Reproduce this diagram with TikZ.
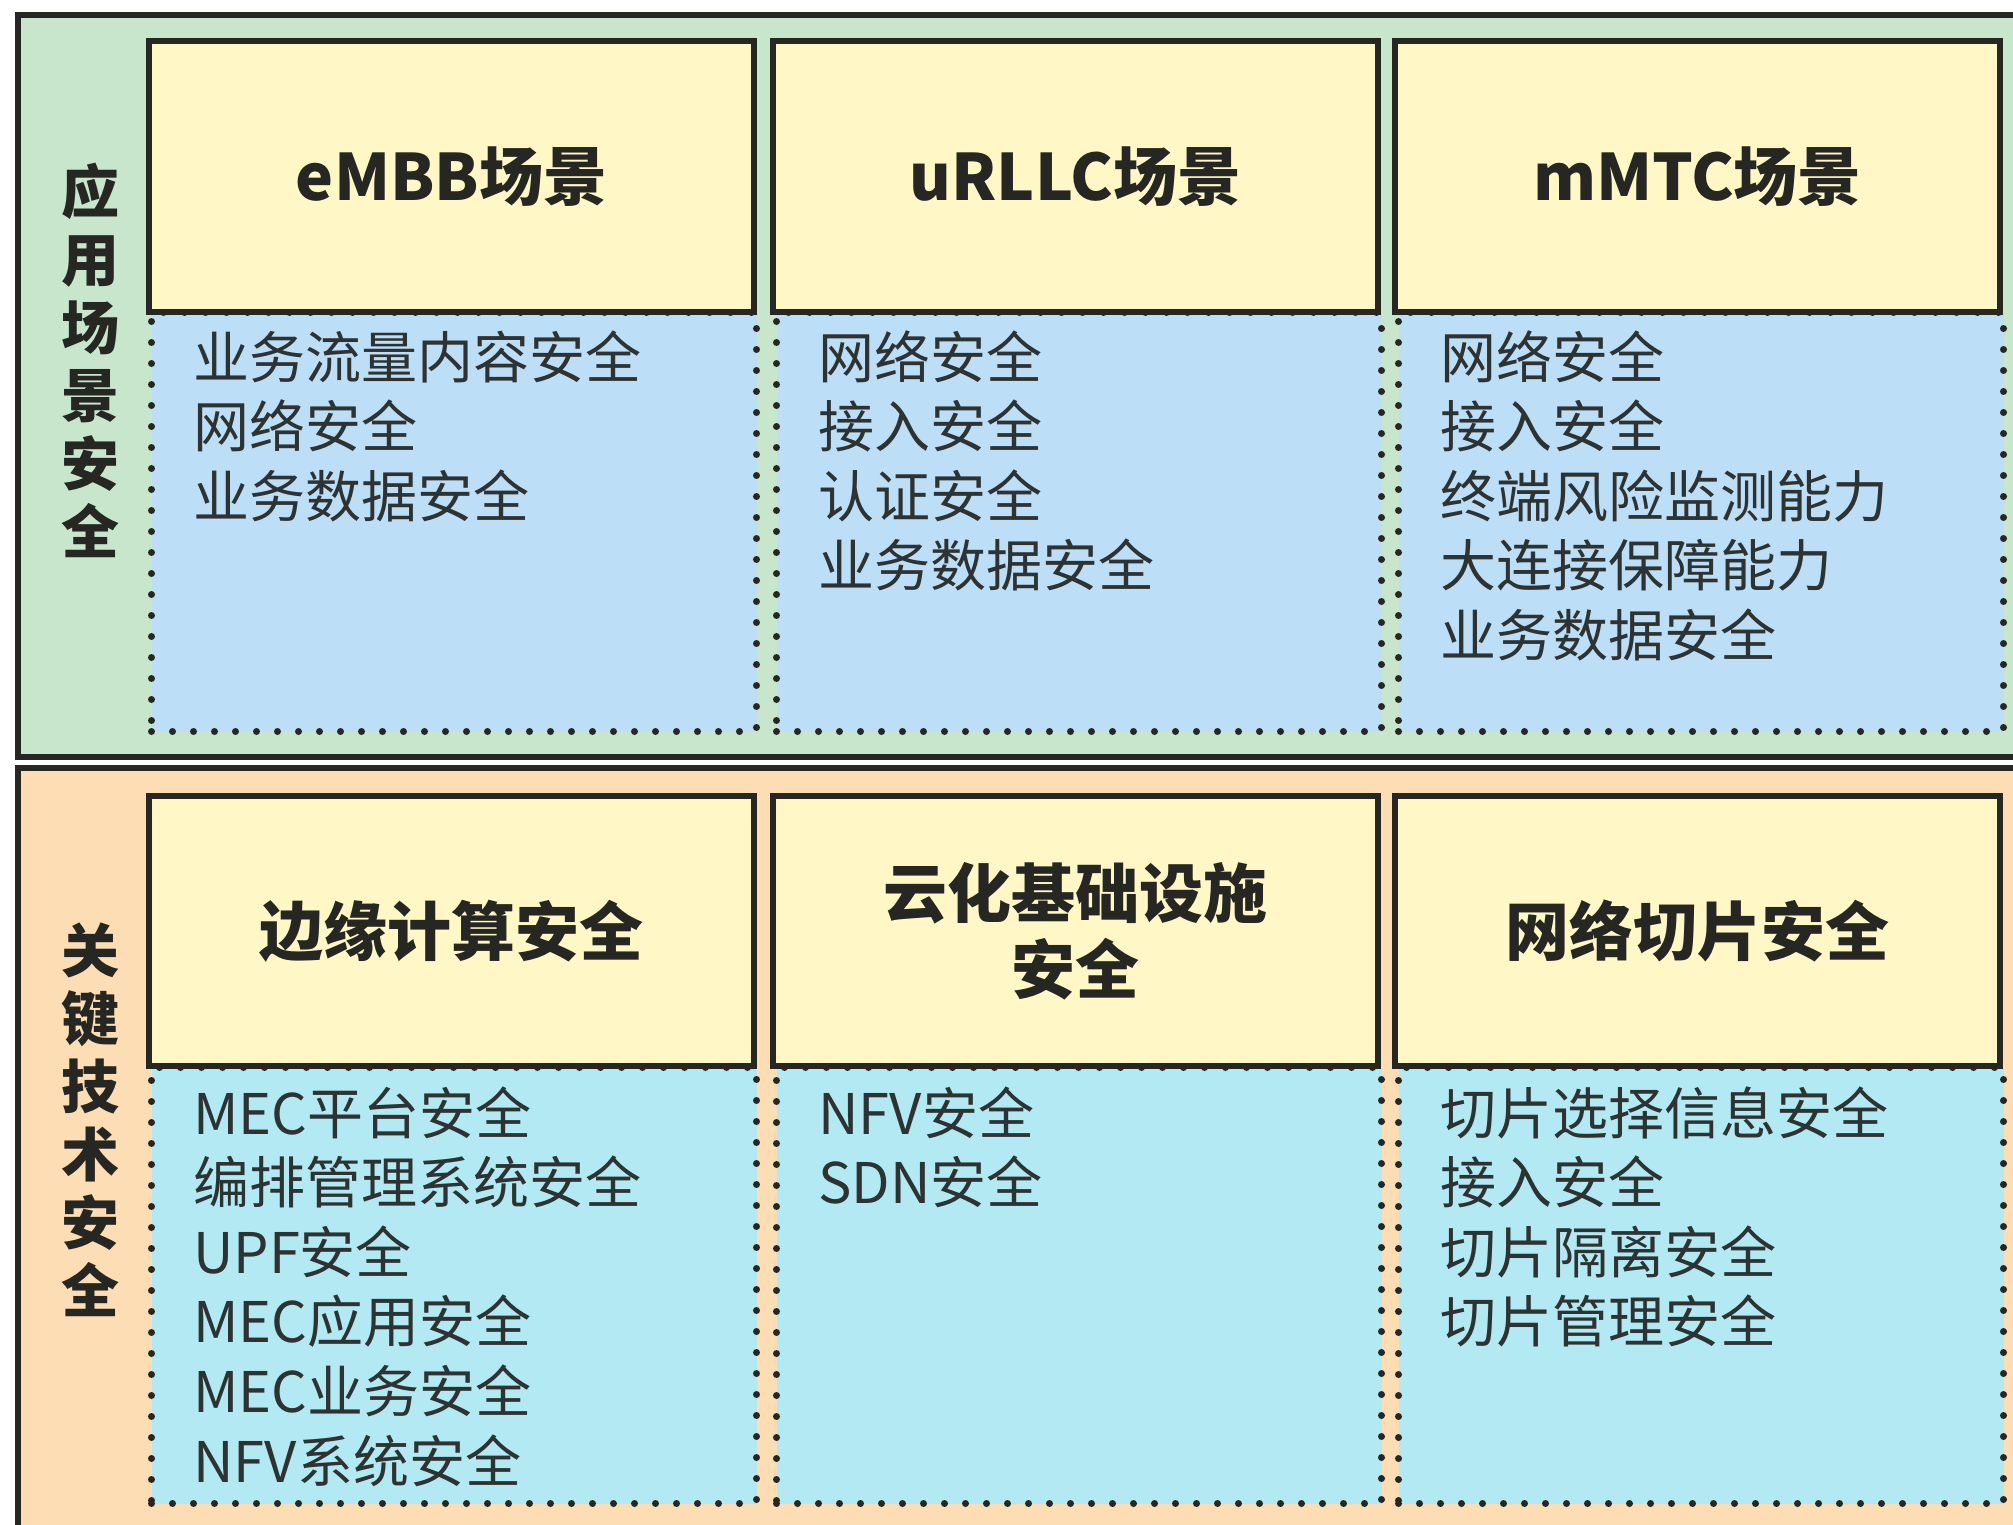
\documentclass[tikz,border=0pt]{standalone}
\usepackage{fontspec}
\setmainfont{Noto Sans CJK SC}
\definecolor{grn}{RGB}{200,230,204}
\definecolor{org}{RGB}{253,221,180}
\definecolor{yel}{RGB}{255,248,198}
\definecolor{blu}{RGB}{189,222,247}
\definecolor{cyn}{RGB}{178,233,242}
\definecolor{lc}{RGB}{38,38,34}
\definecolor{txt}{RGB}{45,50,50}
\begin{document}
\begin{tikzpicture}[x=1pt,y=-1pt,
  frame/.style={draw=lc,line width=6pt},
  head/.style={draw=lc,line width=6pt,fill=yel,minimum width=605pt,inner sep=0pt,
    font=\fontsize{64}{76}\selectfont\bfseries,text=lc,align=center},
  dotbox/.style={draw=lc,line width=7pt,line cap=round,dash pattern=on 0pt off 21pt,
    minimum width=605pt,minimum height=419pt,anchor=north west,inner sep=0pt},
  item/.style={anchor=base west,inner sep=0pt,font=\fontsize{56}{70}\selectfont,text=txt},
  side/.style={font=\fontsize{58}{68}\selectfont\bfseries,align=center,text=lc,inner sep=0pt}]
\useasboundingbox (0,0) rectangle (2013,1525);
\clip (0,0) rectangle (2013,1525);
\fill[white] (0,0) rectangle (2013,1525);
% panels
\filldraw[frame,fill=grn] (18,15) rectangle (2060,757);
\filldraw[frame,fill=org] (18,768) rectangle (2060,1580);
% side labels
\node[side] (s1) at (90,360) {应\\用\\场\\景\\安\\全};
\node[side] (s2) at (90,1120) {关\\键\\技\\术\\安\\全};
% top row detail boxes
\node[dotbox,fill=blu] (d1) at (148,309) {};
\node[dotbox,fill=blu] (d2) at (773,309) {};
\node[dotbox,fill=blu] (d3) at (1395,309) {};
% bottom row detail boxes
\node[dotbox,fill=cyn,minimum height=436pt] (e1) at (148,1064) {};
\node[dotbox,fill=cyn,minimum height=436pt] (e2) at (773,1064) {};
\node[dotbox,fill=cyn,minimum height=436pt] (e3) at (1395,1064) {};
% headers
\node[head,minimum height=271pt] (h1) at (451.5,176.5) {eMBB场景};
\node[head,minimum height=271pt] (h2) at (1075.5,176.5) {uRLLC场景};
\node[head,minimum height=271pt] (h3) at (1697.5,176.5) {mMTC场景};
\node[head,minimum height=270pt] (k1) at (451.5,931) {边缘计算安全};
\node[head,minimum height=270pt] (k2) at (1075.5,931) {云化基础设施\\安全};
\node[head,minimum height=270pt] (k3) at (1697.5,931) {网络切片安全};
% items
\foreach \t [count=\i] in {业务流量内容安全,网络安全,业务数据安全}
  \node[item] (a1-\i) at (193,{378+69.6*(\i-1)}) {\t};
\foreach \t [count=\i] in {网络安全,接入安全,认证安全,业务数据安全}
  \node[item] (a2-\i) at (818,{378+69.6*(\i-1)}) {\t};
\foreach \t [count=\i] in {网络安全,接入安全,终端风险监测能力,大连接保障能力,业务数据安全}
  \node[item] (a3-\i) at (1440,{378+69.6*(\i-1)}) {\t};
\foreach \t [count=\i] in {MEC平台安全,编排管理系统安全,UPF安全,MEC应用安全,MEC业务安全,NFV系统安全}
  \node[item] (b1-\i) at (193,{1134+69.6*(\i-1)}) {\t};
\foreach \t [count=\i] in {NFV安全,SDN安全}
  \node[item] (b2-\i) at (818,{1134+69.6*(\i-1)}) {\t};
\foreach \t [count=\i] in {切片选择信息安全,接入安全,切片隔离安全,切片管理安全}
  \node[item] (b3-\i) at (1440,{1134+69.6*(\i-1)}) {\t};
\end{tikzpicture}
\end{document}
